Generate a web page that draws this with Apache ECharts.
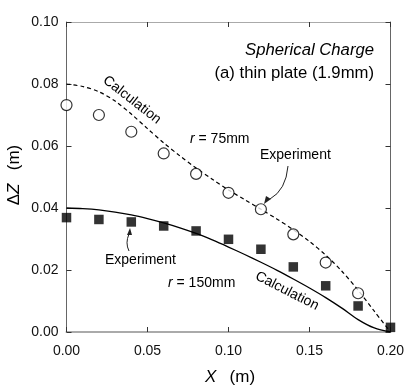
<!DOCTYPE html>
<html>
<head>
<meta charset="utf-8">
<script src="https://cdn.jsdelivr.net/npm/echarts@6/dist/echarts.min.js"></script>
<style>html,body{margin:0;padding:0;background:#fff;}#c{width:415px;height:387px;}</style>
</head>
<body>
<div id="c"></div>
<script>
// ---- data ----
const expX = [0, 0.02, 0.04, 0.06, 0.08, 0.10, 0.12, 0.14, 0.16, 0.18];
const exp75 = [0.0732, 0.0700, 0.0646, 0.0576, 0.0510, 0.0449, 0.0396, 0.0315, 0.0224, 0.0125];
const exp150X = [0, 0.02, 0.04, 0.06, 0.08, 0.10, 0.12, 0.14, 0.16, 0.18, 0.20];
const exp150 = [0.0369, 0.0363, 0.0355, 0.0342, 0.0326, 0.0299, 0.0267, 0.0210, 0.0149, 0.0084, 0.0015];
const calcX = [0, 0.01, 0.02, 0.03, 0.04, 0.05, 0.06, 0.07, 0.08, 0.09, 0.10, 0.11, 0.12, 0.13, 0.14, 0.15, 0.16, 0.17, 0.18, 0.19, 0.20];
const calc75 = [0.0800, 0.0792, 0.0775, 0.0745, 0.0703, 0.0656, 0.0610, 0.0568, 0.0529, 0.0493, 0.0458, 0.0427, 0.0396, 0.0364, 0.0330, 0.0292, 0.0248, 0.0196, 0.0135, 0.0067, 0.0];
const calc150 = [0.0400, 0.0398, 0.0394, 0.0387, 0.0378, 0.0366, 0.0352, 0.0336, 0.0318, 0.0297, 0.0274, 0.0250, 0.0225, 0.0199, 0.0171, 0.0142, 0.0111, 0.0077, 0.0040, 0.0013, 0.0];
const xTicks = [0, 0.05, 0.10, 0.15, 0.20];
const yTicks = [0, 0.02, 0.04, 0.06, 0.08, 0.10];

const zip = (a, b) => a.map((v, i) => [v, b[i]]);
const FONT = '"Liberation Sans", Arial, sans-serif';

const chart = echarts.init(document.getElementById('c'), null, {renderer: 'canvas'});
const labelStyle = {color: '#111', fontSize: 14, fontFamily: FONT};
const tickStyle = {show: true, inside: true, length: 5, lineStyle: {color: '#333', width: 1}};
const T = 14;

chart.setOption({
  animation: false,
  backgroundColor: '#fff',
  grid: {left: 66.5, right: 24.5, top: 22, bottom: 55, containLabel: false},
  xAxis: [
    {type: 'value', min: xTicks[0], max: xTicks[xTicks.length - 1], interval: 0.05, position: 'bottom',
     axisLine: {show: true, onZero: false, lineStyle: {color: '#aaa', width: 2}},
     axisTick: tickStyle, splitLine: {show: false},
     axisLabel: Object.assign({margin: 12, formatter: v => v.toFixed(2)}, labelStyle)},
    {type: 'value', min: 0, max: 0.2, interval: 0.05, position: 'top',
     axisLine: {show: true, onZero: false, lineStyle: {color: '#aaa', width: 1}},
     axisTick: tickStyle, axisLabel: {show: false}, splitLine: {show: false}}
  ],
  yAxis: [
    {type: 'value', min: yTicks[0], max: yTicks[yTicks.length - 1], interval: 0.02, position: 'left',
     axisLine: {show: true, onZero: false, lineStyle: {color: '#666', width: 1}},
     axisTick: tickStyle, splitLine: {show: false},
     axisLabel: Object.assign({margin: 8, formatter: v => v.toFixed(2)}, labelStyle)},
    {type: 'value', min: 0, max: 0.1, interval: 0.02, position: 'right',
     axisLine: {show: true, onZero: false, lineStyle: {color: '#666', width: 1}},
     axisTick: tickStyle, axisLabel: {show: false}, splitLine: {show: false}}
  ],
  series: [
    {type: 'line', data: zip(calcX, calc75), smooth: 0.3, symbol: 'none',
     lineStyle: {color: '#000', width: 1.2, type: [4, 3]}, z: 2},
    {type: 'line', data: zip(calcX, calc150), smooth: 0.3, symbol: 'none',
     lineStyle: {color: '#000', width: 1.3}, z: 2},
    {type: 'scatter', data: zip(expX, exp75), symbol: 'circle', symbolSize: 11,
     itemStyle: {color: '#fff', borderColor: '#000', borderWidth: 1.2}, z: 4},
    {type: 'scatter', data: zip(exp150X, exp150), symbol: 'rect', symbolSize: 9.5,
     itemStyle: {color: '#000'}, z: 4}
  ],
  graphic: [
    // Y axis title
    {type: 'text', x: 14, y: 175, rotation: Math.PI / 2,
     style: {text: '{a|Δ}{b|Z}    {a|(m)}', align: 'center', verticalAlign: 'middle',
       rich: {a: {fontSize: 17, fontFamily: FONT, fill: '#000'}, b: {fontSize: 17, fontStyle: 'italic', fontFamily: FONT, fill: '#000'}}}},
    // X axis title
    {type: 'text', x: 230, y: 377,
     style: {text: '{b|X}    {a|(m)}', align: 'center', verticalAlign: 'middle',
       rich: {a: {fontSize: 17, fontFamily: FONT, fill: '#000'}, b: {fontSize: 17, fontStyle: 'italic', fontFamily: FONT, fill: '#000'}}}},
    {type: 'text', x: 374, y: 50,
     style: {text: 'Spherical Charge', align: 'right', verticalAlign: 'middle', fontSize: 16.7, fontStyle: 'italic', fontFamily: FONT, fill: '#000'}},
    {type: 'text', x: 374, y: 73,
     style: {text: '(a) thin plate (1.9mm)', align: 'right', verticalAlign: 'middle', fontSize: 16.7, fontFamily: FONT, fill: '#000'}},
    {type: 'text', x: 132, y: 100, rotation: -38 * Math.PI / 180,
     style: {text: 'Calculation', align: 'center', verticalAlign: 'middle', fontSize: T, fontFamily: FONT, fill: '#000'}},
    {type: 'text', x: 287, y: 291, rotation: -27 * Math.PI / 180,
     style: {text: 'Calculation', align: 'center', verticalAlign: 'middle', fontSize: T, fontFamily: FONT, fill: '#000'}},
    {type: 'text', x: 190, y: 139,
     style: {text: '{i|r} = 75mm', verticalAlign: 'middle',
       rich: {i: {fontSize: T, fontStyle: 'italic', fontFamily: FONT, fill: '#000'}}, fontSize: T, fontFamily: FONT, fill: '#000'}},
    {type: 'text', x: 168, y: 283,
     style: {text: '{i|r} = 150mm', verticalAlign: 'middle',
       rich: {i: {fontSize: T, fontStyle: 'italic', fontFamily: FONT, fill: '#000'}}, fontSize: T, fontFamily: FONT, fill: '#000'}},
    {type: 'text', x: 260, y: 155,
     style: {text: 'Experiment', verticalAlign: 'middle', fontSize: T, fontFamily: FONT, fill: '#000'}},
    {type: 'text', x: 105, y: 260,
     style: {text: 'Experiment', verticalAlign: 'middle', fontSize: T, fontFamily: FONT, fill: '#000'}},
    // arrows
    {type: 'bezierCurve', shape: {x1: 288, y1: 166, x2: 270, y2: 199, cpx1: 286, cpy1: 190},
     style: {stroke: '#222', lineWidth: 1, fill: null}, z: 5},
    {type: 'polygon', shape: {points: [[264, 204], [266, 196], [271, 199]]}, style: {fill: '#222'}, z: 5},
    {type: 'bezierCurve', shape: {x1: 129, y1: 251, x2: 129, y2: 234, cpx1: 125, cpy1: 243},
     style: {stroke: '#222', lineWidth: 1, fill: null}, z: 5},
    {type: 'polygon', shape: {points: [[130, 228], [127, 235], [132, 235]]}, style: {fill: '#222'}, z: 5}
  ]
});
</script>
</body>
</html>
